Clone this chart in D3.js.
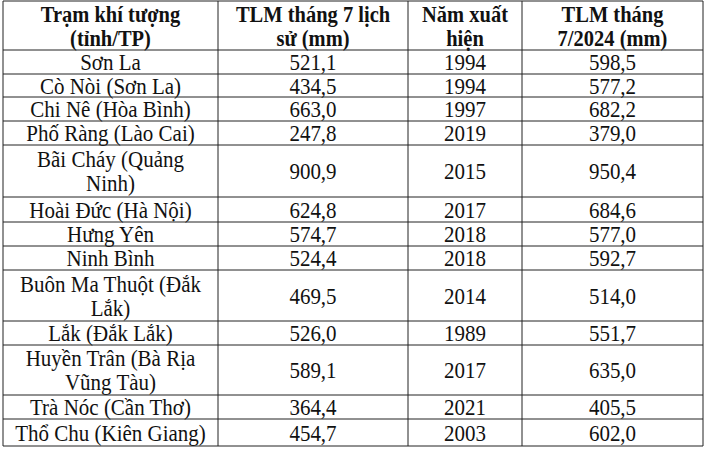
<!DOCTYPE html><html><head><meta charset="utf-8"><script src="https://cdn.jsdelivr.net/npm/d3@7"></script>
<style>body{margin:0;background:#fff}</style></head><body><svg id="c" width="705" height="452"></svg>
<script>
const headers=[["Trạm khí tượng","(tỉnh/TP)"],["TLM tháng 7 lịch","sử (mm)"],["Năm xuất","hiện"],["TLM tháng","7/2024 (mm)"]];
const stations=[["Sơn La"],["Cò Nòi (Sơn La)"],["Chi Nê (Hòa Bình)"],["Phố Ràng (Lào Cai)"],["Bãi Cháy (Quảng","Ninh)"],["Hoài Đức (Hà Nội)"],["Hưng Yên"],["Ninh Bình"],["Buôn Ma Thuột (Đắk","Lắk)"],["Lắk (Đắk Lắk)"],["Huyền Trân (Bà Rịa","Vũng Tàu)"],["Trà Nóc (Cần Thơ)"],["Thổ Chu (Kiên Giang)"]];
const histValues=["521,1","434,5","663,0","247,8","900,9","624,8","574,7","524,4","469,5","526,0","589,1","364,4","454,7"];
const years=["1994","1994","1997","2019","2015","2017","2018","2018","2014","1989","2017","2021","2003"];
const values2024=["598,5","577,2","682,2","379,0","950,4","684,6","577,0","592,7","514,0","551,7","635,0","405,5","602,0"];
const svg=d3.select("#c");
const colX=[3,218,408,522,703];
const rowY=[1,50,74,97,121,145,197,222,246,270,321,345,395,419,446];
const g=svg.append("g");
function cellText(lines,ci,ri,bold){
  const x=(colX[ci]+colX[ci+1])/2, yc=(rowY[ri]+rowY[ri+1])/2, lh=24;
  lines.forEach((t,i)=>g.append("text").attr("transform",`translate(${x},${yc+(i-(lines.length-1)/2)*lh}) scale(1,1.12)`).attr("dy","0.35em")
    .attr("text-anchor","middle").attr("font-family","Liberation Serif, serif").attr("font-size",bold?20.5:21)
    .attr("font-weight",bold?"bold":"normal").attr("fill","#111").text(t));
}
headers.forEach((h,ci)=>cellText(h,ci,0,true));
stations.forEach((s,i)=>{cellText(s,0,i+1);cellText([histValues[i]],1,i+1);cellText([years[i]],2,i+1);cellText([values2024[i]],3,i+1);});
rowY.forEach(y=>g.append("line").attr("x1",colX[0]).attr("x2",colX[4]).attr("y1",y).attr("y2",y).attr("stroke","#222").attr("stroke-width",1));
colX.forEach(x=>g.append("line").attr("x1",x).attr("x2",x).attr("y1",rowY[0]).attr("y2",rowY[rowY.length-1]).attr("stroke","#222").attr("stroke-width",1));
</script></body></html>
